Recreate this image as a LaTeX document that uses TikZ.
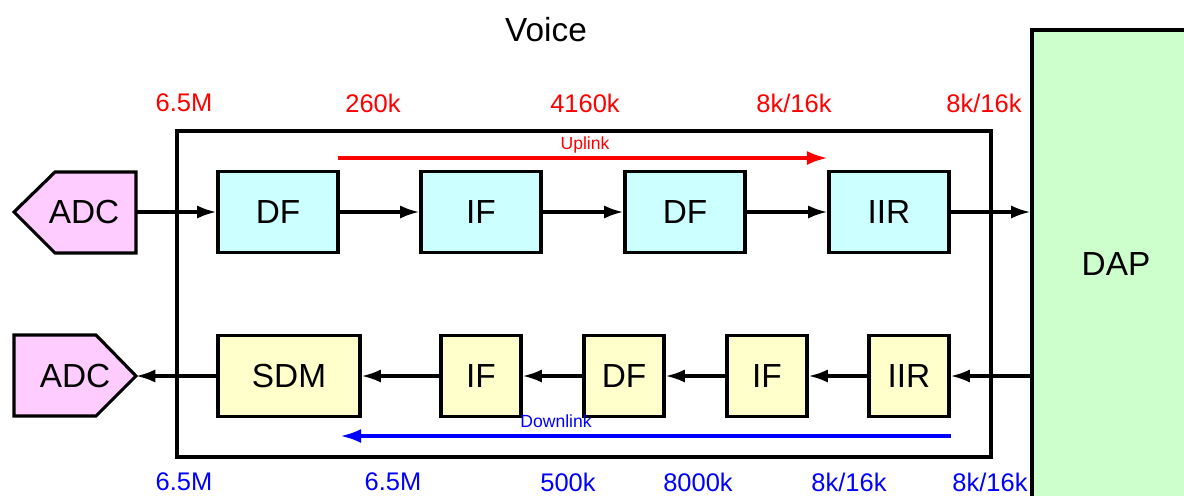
\documentclass[tikz,border=0pt]{standalone}
\usepackage{fontspec}
\setmainfont{Liberation Sans}
\usepackage{xcolor}
\definecolor{upfill}{RGB}{204,255,255}
\definecolor{downfill}{RGB}{255,255,204}
\definecolor{adcfill}{RGB}{255,204,255}
\definecolor{dapfill}{RGB}{204,255,204}
\definecolor{uprate}{RGB}{255,0,0}
\definecolor{downrate}{RGB}{0,0,255}
\usetikzlibrary{arrows.meta,positioning}

\begin{document}
\begin{tikzpicture}[
  x=0.02cm, y=-0.02cm,
  every node/.style={font=\fontsize{19pt}{22pt}\selectfont},
  blockbox/.style={draw,line width=1.8pt,minimum height=1.62cm,inner sep=0pt},
  upbox/.style={blockbox,fill=upfill,minimum width=2.4cm},
  downbox/.style={blockbox,fill=downfill,minimum width=1.6cm},
  adcshape/.style={draw,line width=1.8pt,fill=adcfill,line join=miter},
  flow/.style={line width=1.8pt,-{Latex[length=11pt,width=7.5pt]}},
  dirarrow/.style={line width=2.2pt,-{Latex[length=12pt,width=8pt]}},
  ratelabel/.style={font=\fontsize{14.5pt}{17pt}\selectfont},
  dirlabel/.style={font=\fontsize{10pt}{12pt}\selectfont},
]
  \useasboundingbox (0,0) rectangle (1184,495);

  % Title
  \node (title) at (546,30) {Voice};

  % DAP block (runs off the page)
  \node[draw,line width=1.8pt,fill=dapfill,minimum width=3.36cm,minimum height=9.6cm,
        inner sep=0pt] (dap) at (1116,270) {};
  \node (daptext) at (1116,264) {DAP};

  % Voice frame
  \draw[line width=1.8pt] (177,131) rectangle (991,457);

  % ADC in / out
  \draw[adcshape] (14,212) -- (55,172) -- (136,172) -- (136,253) -- (55,253) -- cycle;
  \node (adcup) at (84,212) {ADC};
  \coordinate (adcup-e) at (136,212);
  \draw[adcshape] (14,335) -- (96,335) -- (136,376) -- (96,416) -- (14,416) -- cycle;
  \node (adcdown) at (75,376) {ADC};
  \coordinate (adcdown-e) at (136,376);

  % Uplink chain
  \node[upbox] (df1) at (278,212) {DF};
  \node[upbox] (if1) at (481,212) {IF};
  \node[upbox] (df2) at (685,212) {DF};
  \node[upbox] (iir1) at (889,212) {IIR};

  % Downlink chain
  \node[downbox,minimum width=2.84cm] (sdm) at (289,376) {SDM};
  \node[downbox] (if2) at (481,376) {IF};
  \node[downbox] (df3) at (624,376) {DF};
  \node[downbox] (if3) at (767,376) {IF};
  \node[downbox] (iir2) at (909,376) {IIR};

  % Uplink connectors
  \draw[flow] (adcup-e) -- (df1.west);
  \draw[flow] (df1.east) -- (if1.west);
  \draw[flow] (if1.east) -- (df2.west);
  \draw[flow] (df2.east) -- (iir1.west);
  \draw[flow] (iir1.east) -- (iir1.east -| dap.west);

  % Downlink connectors
  \draw[flow] (iir2.east -| dap.west) -- (iir2.east);
  \draw[flow] (iir2.west) -- (if3.east);
  \draw[flow] (if3.west) -- (df3.east);
  \draw[flow] (df3.west) -- (if2.east);
  \draw[flow] (if2.west) -- (sdm.east);
  \draw[flow] (sdm.west) -- (adcdown-e);

  % Direction arrows
  \coordinate (uplink-s) at (338,158);
  \coordinate (uplink-e) at (828,158);
  \draw[dirarrow,uprate] (uplink-s) -- (uplink-e);
  \node[dirlabel,text=uprate] (uplinktext) at (585,145) {Uplink};
  \coordinate (downlink-s) at (951,436);
  \coordinate (downlink-e) at (340,436);
  \draw[dirarrow,downrate] (downlink-s) -- (downlink-e);
  \node[dirlabel,text=downrate] (downlinktext) at (556,421) {Downlink};

  % Uplink rates
  \node[ratelabel,text=uprate] (ur1) at (184,103) {6.5M};
  \node[ratelabel,text=uprate] (ur2) at (373,103) {260k};
  \node[ratelabel,text=uprate] (ur3) at (585,103) {4160k};
  \node[ratelabel,text=uprate] (ur4) at (794,103) {8k/16k};
  \node[ratelabel,text=uprate] (ur5) at (984,103) {8k/16k};

  % Downlink rates
  \node[ratelabel,text=downrate] (dr1) at (184,482) {6.5M};
  \node[ratelabel,text=downrate] (dr2) at (393,482) {6.5M};
  \node[ratelabel,text=downrate] (dr3) at (568,482) {500k};
  \node[ratelabel,text=downrate] (dr4) at (698,482) {8000k};
  \node[ratelabel,text=downrate] (dr5) at (849,482) {8k/16k};
  \node[ratelabel,text=downrate] (dr6) at (990,482) {8k/16k};
\end{tikzpicture}
\end{document}
